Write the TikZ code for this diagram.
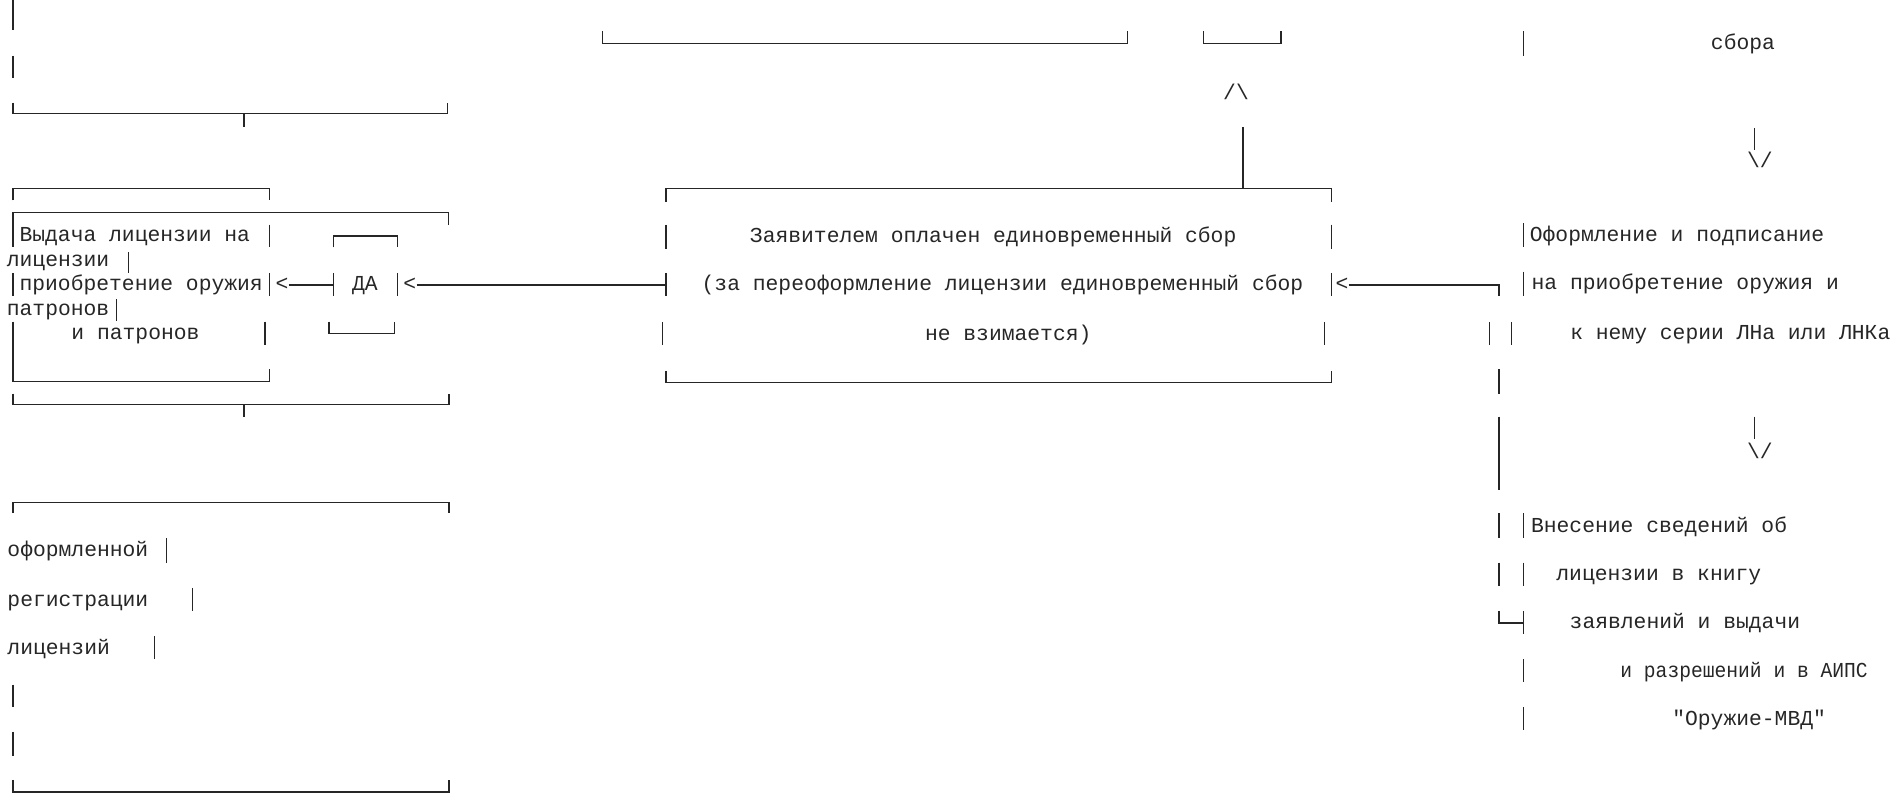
\documentclass[tikz,border=0pt]{standalone}
\usepackage{graphicx}
\usepackage{fontspec}
\setmonofont{Liberation Mono}
\usetikzlibrary{positioning,calc}

\tikzset{
	txt/.style={font=\ttfamily\fontsize{17.67}{20}\selectfont, inner sep=0pt, anchor=base west, text=black!85},
	ln/.style={line width=1.1pt, draw=black!85},
}

\begin{document}
\begin{tikzpicture}[x=1pt, y=-1pt]
	\useasboundingbox (0,0) rectangle (1568,659);

	% text of the boxes
	\node[txt] (sbora) at (1417,41) {сбора};
	\node[txt] (vyd1) at (16,200) {Выдача лицензии на};
	\node[txt] (vyd2) at (5.5,221) {лицензии};
	\node[txt] (vyd3) at (16,241) {приобретение оружия};
	\node[txt] (vyd4) at (5.5,261) {патронов};
	\node[txt] (vyd5) at (59,281) {и патронов};
	\node[txt] (da) at (291.5,241) {ДА};
	\node[txt] (opl1) at (621,201) {Заявителем оплачен единовременный сбор};
	\node[txt] (opl2) at (581,241) {(за переоформление лицензии единовременный сбор};
	\node[txt] (opl3) at (766,282) {не взимается)};
	\node[txt] (ofo1) at (1267,200) {Оформление и подписание};
	\node[txt] (ofo2) at (1268.5,240) {на приобретение оружия и};
	\node[txt] (ofo3) at (1300.5,281) {к нему серии ЛНа или ЛНКа};
	\node[txt] (vne1) at (1268,441) {Внесение сведений об};
	\node[txt] (vne2) at (1289,481) {лицензии в книгу};
	\node[txt] (vne3) at (1300,521) {заявлений и выдачи};
	\node[txt] (vne4) at (1342,561) {\scalebox{0.92}[1]{и разрешений и в АИПС}};
	\node[txt] (vne5) at (1385,601) {"Оружие-МВД"};
	\node[txt] (reg1) at (6,461) {оформленной};
	\node[txt] (reg2) at (6,502) {регистрации};
	\node[txt] (reg3) at (6,542) {лицензий};

	% arrow heads written as text
	\node[txt] (up) at (1013,82) {/\textbackslash};
	\node[txt] (dn1) at (1447,139) {\textbackslash/};
	\node[txt] (dn2) at (1447,380) {\textbackslash/};
	\node[txt] (lt1) at (228,241) {<};
	\node[txt] (lt2) at (334,241) {<};
	\node[txt] (lt3) at (1106,241) {<};

	\coordinate (da-l) at (276,236);
	\coordinate (opl-l) at (551.7,236);
	\coordinate (opl-r) at (1241.6,236);
	\coordinate (opl-t) at (1029.5,105);

	% connectors
	\draw[ln] (lt1.east |- da-l) -- (da-l);
	\draw[ln] (lt2.east |- opl-l) -- (opl-l);
	\draw[ln] (lt3.east |- opl-r) -- (opl-r) -- ++(0,9);
	\draw[ln] (opl-t) -- (1029.5,156);

	% box edges
	\draw[ln] (10.8,85) |- (370.5,94) -- (370.5,85);
	\draw[ln] (202,94) -- (202,105);
	\draw[ln] (10.8,166) |- (223,156) -- (223,166);
	\draw[ln] (10.8,186) |- (371.5,176) -- (371.5,186);
	\draw[ln] (10.8,266.5) |- (223,316) -- (223,306);
	\draw[ln] (10.8,326) |- (372,335) -- (372,326);
	\draw[ln] (202,335) -- (202,345);
	\draw[ln] (276,205) |- (329,195.5) -- (329,205);
	\draw[ln] (272.5,266.5) |- (326.6,276) -- (326.6,266.5);
	\draw[ln] (499,26) |- (934,36) -- (934,26);
	\draw[ln] (997,26) |- (1061,36) -- (1061,26);
	\draw[ln] (551.7,167) |- (1103,156) -- (1103,167);
	\draw[ln] (551.7,307) |- (1103,317) -- (1103,307);
	\draw[ln] (1241.6,506) |- (1262,516);
	\draw[ln] (1262,506) -- (1262,525);
	\draw[ln] (10.8,425) |- (372,416) -- (372,425);
	\draw[ln] (10.8,646) |- (372,656) -- (372,646);

	% single bars
	\foreach \x/\a/\b in {10.8/0/25, 10.8/46/65, 10.8/186/205, 223/186/205,
		106.4/209/226, 10.8/226/245, 223/226/245, 96.3/248/266, 219.5/266.5/286,
		276/226/245, 329/226/245,
		551.7/186/206, 1103/186/206, 551.7/226/245, 1103/226/245,
		548.5/267/286, 1097/267/286,
		1262/26/46, 1453/106/124, 1262/185/205, 1262/225/245,
		1234/267/286, 1252/267/286, 1241.6/306/326, 1241.6/345/406,
		1453/345/364, 1241.6/425/446, 1262/425/446, 1241.6/466/485,
		1262/466/485, 1262/546/565, 1262/586/605,
		138/446/466, 159.5/487/506, 128/527/546, 10.8/567/586, 10.8/606/626}
		\draw[ln] (\x,\a) -- (\x,\b);
\end{tikzpicture}
\end{document}
